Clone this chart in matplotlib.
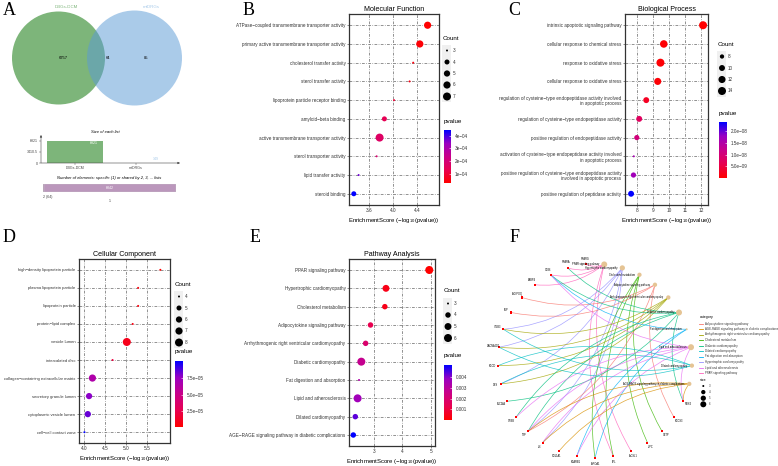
import numpy as np
import matplotlib.pyplot as plt
from matplotlib.colors import LinearSegmentedColormap
from matplotlib.patches import Circle, Rectangle, FancyArrowPatch

W, H = 778, 466
plt.rcParams['font.family'] = ['Liberation Sans', 'DejaVu Sans']
plt.rcParams['mathtext.fontset'] = 'custom'
plt.rcParams['mathtext.rm'] = 'Liberation Sans'

# ---- A: venn / list sizes ----
set_names = ['DBGs-DCM', 'mtDRGs']
venn_regions = [6757, 64, 85]          # only left, shared, only right
list_sizes = [6821, 149]
shared_labels = ['2 (64)', '1']
shared_counts = [64, 6842]

# ---- B: GO molecular function ----
mf_terms = ['ATPase\u2212coupled transmembrane transporter activity',
            'primary active transmembrane transporter activity',
            'cholesterol transfer activity', 'sterol transfer activity',
            'lipoprotein particle receptor binding', 'amyloid\u2212beta binding',
            'active transmembrane transporter activity', 'sterol transporter activity',
            'lipid transfer activity', 'steroid binding']
mf_score = [4.58, 4.45, 4.34, 4.28, 4.02, 3.86, 3.78, 3.73, 3.43, 3.35]
mf_count = [6, 6, 3, 3, 3, 4, 7, 3, 3, 4]

# ---- C: GO biological process ----
bp_terms = ['intrinsic apoptotic signaling pathway',
            'cellular response to chemical stress',
            'response to oxidative stress',
            'cellular response to oxidative stress',
            'regulation of cysteine\u2212type endopeptidase activity involved\nin apoptotic process',
            'regulation of cysteine\u2212type endopeptidase activity',
            'positive regulation of endopeptidase activity',
            'activation of cysteine\u2212type endopeptidase activity involved\nin apoptotic process',
            'positive regulation of cysteine\u2212type endopeptidase activity\ninvolved in apoptotic process',
            'positive regulation of peptidase activity']
bp_score = [12.13, 9.67, 9.46, 9.29, 8.57, 8.13, 7.98, 7.79, 7.77, 7.62]
bp_count = [14, 13, 14, 12, 10, 10, 9, 7, 9, 10]

# ---- D: GO cellular component ----
cc_terms = ['high\u2212density lipoprotein particle', 'plasma lipoprotein particle',
            'lipoprotein particle', 'protein\u2212lipid complex', 'vesicle lumen',
            'intercalated disc', 'collagen\u2212containing extracellular matrix',
            'secretory granule lumen', 'cytoplasmic vesicle lumen',
            'cell\u2212cell contact zone']
cc_score = [5.81, 5.28, 5.28, 5.15, 5.01, 4.67, 4.19, 4.11, 4.08, 4.0]
cc_count = [4, 4, 4, 4, 8, 4, 7, 6, 6, 4]

# ---- E: KEGG ----
kegg_terms = ['PPAR signaling pathway', 'Hypertrophic cardiomyopathy',
              'Cholesterol metabolism', 'Adipocytokine signaling pathway',
              'Arrhythmogenic right ventricular cardiomyopathy',
              'Diabetic cardiomyopathy', 'Fat digestion and absorption',
              'Lipid and atherosclerosis', 'Dilated cardiomyopathy',
              'AGE\u2212RAGE signaling pathway in diabetic complications']
kegg_score = [4.94, 3.43, 3.39, 2.89, 2.72, 2.57, 2.49, 2.44, 2.36, 2.29]
kegg_count = [6, 5, 4, 4, 4, 6, 3, 6, 4, 4]

# ---- F: gene-pathway network ----
legend_cats = ['Adipocytokine signaling pathway',
               'AGE-RAGE signaling pathway in diabetic complications',
               'Arrhythmogenic right ventricular cardiomyopathy',
               'Cholesterol metabolism', 'Diabetic cardiomyopathy',
               'Dilated cardiomyopathy', 'Fat digestion and absorption',
               'Hypertrophic cardiomyopathy', 'Lipid and atherosclerosis',
               'PPAR signaling pathway']
cat_colors = ['#F8766D', '#D89000', '#A3A500', '#39B600', '#00BF7D',
              '#00BFC4', '#00B0F6', '#9590FF', '#E76BF3', '#FF62BC']
cat_genes = {
    'PPAR signaling pathway': ['PPARG', 'CD36', 'FABP4', 'LPL', 'ACSL1', 'PPARA'],
    'Hypertrophic cardiomyopathy': ['ITGB3', 'TNF', 'IL6', 'CACNA2D1', 'DES'],
    'Cholesterol metabolism': ['APOA1', 'LPL', 'CETP', 'LIPC'],
    'Adipocytokine signaling pathway': ['ADIPOQ', 'LEP', 'TNF', 'SOCS3'],
    'Arrhythmogenic right ventricular cardiomyopathy': ['ITGB3', 'CACNA2D1', 'DES', 'SGCD'],
    'Diabetic cardiomyopathy': ['NOX4', 'TNF', 'CYBB', 'SLC2A4', 'CD36', 'PPARA'],
    'Fat digestion and absorption': ['APOA1', 'CD36', 'SCARB1'],
    'Lipid and atherosclerosis': ['CD36', 'TNF', 'IL6', 'NOX4', 'CYBB', 'SCARB1'],
    'Dilated cardiomyopathy': ['ITGB3', 'CACNA2D1', 'DES', 'SGCD'],
    'AGE-RAGE signaling pathway in diabetic complications': ['IL6', 'TNF', 'NOX4', 'COL1A1'],
}
gene_order = ['NOX4', 'SOCS3', 'CETP', 'LIPC', 'ACSL1', 'LPL', 'APOA1', 'SCARB1',
              'COL1A1', 'IL6', 'TNF', 'CYBB', 'SLC2A4', 'DES', 'SGCD', 'CACNA2D1',
              'ITGB3', 'LEP', 'ADIPOQ', 'FABP4', 'CD36', 'PPARA', 'PPARG']
ring_cats = ['PPAR signaling pathway', 'Hypertrophic cardiomyopathy',
             'Cholesterol metabolism', 'Adipocytokine signaling pathway',
             'Arrhythmogenic right ventricular cardiomyopathy',
             'Diabetic cardiomyopathy', 'Fat digestion and absorption',
             'Lipid and atherosclerosis', 'Dilated cardiomyopathy',
             'AGE-RAGE signaling pathway in diabetic complications']

# red -> blue gradient (approximating ggplot's Lab interpolation)
pcmap = LinearSegmentedColormap.from_list(
    'pv', ['#FF0000', '#E80050', '#C90089', '#9A00C2', '#0000FF'])

fig = plt.figure(figsize=(W / 100, H / 100), dpi=100)


def px_axes(x0, y0, x1, y1):
    return fig.add_axes([x0 / W, 1 - y1 / H, (x1 - x0) / W, (y1 - y0) / H])


def px_canvas(x0, y0, x1, y1):
    ax = px_axes(x0, y0, x1, y1)
    ax.set_xlim(x0, x1)
    ax.set_ylim(y1, y0)
    ax.axis('off')
    return ax


def ftext(x, y, s, **kw):
    fig.text(x / W, 1 - y / H, s, **kw)


def dotplot(box, terms, scores, counts, title, xlim, xticks, xticklabels,
            size_breaks, leg_x, leg_y, cbar_box, cbar_ticks, cbar_labels,
            ylab_size=3.3):
    scores = np.asarray(scores)
    pvals = 10.0 ** -scores
    cmin, cmax = min(counts), max(counts)

    def area(c):
        d = 2 + 6 * np.sqrt((np.asarray(c, float) - cmin) / (cmax - cmin))
        return (0.72 * d) ** 2

    ax = px_axes(*box)
    rows = np.arange(len(terms))
    ax.scatter(scores, rows, s=area(counts), c=pvals, cmap=pcmap,
               vmin=pvals.min(), vmax=pvals.max(), edgecolors='none', zorder=3)
    ax.set_ylim(len(terms) - 0.4, -0.6)
    ax.set_xlim(*xlim)
    ax.set_yticks(rows)
    ax.set_yticklabels(terms)
    ax.set_xticks(xticks)
    ax.set_xticklabels(xticklabels)
    ax.grid(True, linestyle=(0, (4, 2, 1, 2)), color='#666666', lw=0.5)
    ax.set_axisbelow(True)
    for sp in ax.spines.values():
        sp.set_color('#333333')
        sp.set_linewidth(0.9)
    ax.tick_params(length=1.5, width=0.4, pad=1, colors='#333333')
    ax.tick_params(axis='y', labelsize=ylab_size)
    ax.tick_params(axis='x', labelsize=3.4)
    ax.set_title(title, fontsize=5.1, pad=2.5)
    ax.set_xlabel('EnrichmentScore (\u2212log$_{10}$(pvalue))', fontsize=4.3,
                  labelpad=1.5)

    # size legend
    lg = px_canvas(0, 0, W, H)
    ftext(leg_x - 4, leg_y, 'Count', fontsize=4.5, va='center')
    ys = [leg_y + 12.5 + 11.5 * i for i in range(len(size_breaks))]
    lg.add_patch(Rectangle((leg_x - 4.5, ys[0] - 5.5), 9, ys[-1] - ys[0] + 11,
                           color='#F0F0F0', lw=0))
    lg.scatter([leg_x] * len(ys), ys, s=area(size_breaks), c='black',
               edgecolors='none')
    for y, b in zip(ys, size_breaks):
        ftext(leg_x + 6, y, str(b), fontsize=3.3, va='center', color='#333333')

    # colour bar
    x0, y0, x1, y1 = cbar_box
    ftext(x0, y0 - 9, 'pvalue', fontsize=4.5, va='center')
    cax = px_axes(*cbar_box)
    grad = np.linspace(pvals.min(), pvals.max(), 256)[:, None]
    cax.imshow(grad, aspect='auto', cmap=pcmap, origin='lower',
               extent=[0, 1, pvals.min(), pvals.max()])
    cax.set_xticks([])
    cax.yaxis.tick_right()
    cax.set_yticks(cbar_ticks)
    cax.set_yticklabels(cbar_labels)
    cax.tick_params(axis='y', length=1.5, width=0.4, color='white',
                    direction='in', labelsize=3.3, pad=3, labelcolor='#333333')
    for sp in cax.spines.values():
        sp.set_visible(False)
    return ax


# ---------- Panel A ----------
venn_green = '#7DB57A'
venn_blue_light = '#A8CBEA'
va_ax = px_canvas(0, 0, 240, 115)
va_ax.add_patch(Circle((58.5, 58), 46.5, color=venn_green, lw=0))
va_ax.add_patch(Circle((134.5, 58), 47.5, color='#5A9AD6', alpha=0.515, lw=0))
for x, v in zip([63, 108, 146], venn_regions):
    va_ax.text(x, 58, str(v), fontsize=3, ha='center', va='center')
va_ax.text(66, 7, set_names[0], fontsize=3.2, color=venn_green, ha='center', va='center')
va_ax.text(151, 7, set_names[1], fontsize=3.2, color=venn_blue_light, ha='center', va='center')

bax = px_axes(41, 135, 180, 163)
bars = bax.bar([0, 1], list_sizes, width=0.92, color=[venn_green, venn_blue_light])
bax.set_xlim(-0.557, -0.557 + 139 / 61)
bax.set_ylim(0, list_sizes[0] * 1.25)
bax.set_yticks([0, list_sizes[0] / 2, list_sizes[0]])
bax.set_yticklabels(['0', '3410.5', '6821'])
bax.set_xticks([0, 1])
bax.set_xticklabels(set_names)
bax.tick_params(length=1.2, width=0.3, labelsize=2.6, pad=1, colors='#444444')
for s in ['top', 'right', 'left', 'bottom']:
    bax.spines[s].set_visible(False)
bax.patch.set_alpha(0)
bax.annotate('', xy=(0, 1), xytext=(0, 0), xycoords='axes fraction',
             arrowprops=dict(arrowstyle='-|>', lw=0.4, color='#444444',
                             mutation_scale=3, shrinkA=0, shrinkB=0))
bax.annotate('', xy=(1, 0), xytext=(0, 0), xycoords='axes fraction',
             arrowprops=dict(arrowstyle='-|>', lw=0.4, color='#444444',
                             mutation_scale=3, shrinkA=0, shrinkB=0))
bax.text(0.38, list_sizes[0] * 0.88, str(list_sizes[0]), fontsize=2.6,
         color='white', ha='right', va='center')
bax.text(1.37, list_sizes[1] + 500, str(list_sizes[1]), fontsize=2.6,
         color=venn_blue_light, ha='right', va='bottom')
ftext(105, 132, 'Size of each list', fontsize=3, style='italic', ha='center', va='center')
ftext(109, 178, 'Number of elements: specific (1) or shared by 2, 3, ... lists',
      fontsize=3, style='italic', ha='center', va='center')

sax = px_axes(43, 184, 176, 191.5)
left = 0
for c, col in zip(shared_counts, ['#A77FA8', '#BB97BC']):
    sax.barh(0, c, left=left, height=1, color=col, edgecolor='#C8C8C8', lw=0.3)
    left += c
sax.set_xlim(0, sum(shared_counts))
sax.set_ylim(-0.5, 0.5)
sax.axis('off')
sax.text(shared_counts[0] + shared_counts[1] / 2, 0, str(shared_counts[1]),
         fontsize=2.6, color='white', ha='center', va='center')
ftext(43, 197, shared_labels[0], fontsize=2.6, color='#444444', va='center')
ftext(110, 201, shared_labels[1], fontsize=2.6, color='#444444', ha='center', va='center')

# ---------- Panels B-E ----------
dotplot((349, 14, 439, 205), mf_terms, mf_score, mf_count, 'Molecular Function',
        (3.27, 4.77), [3.6, 4.0, 4.4], ['3.6', '4.0', '4.4'],
        [3, 4, 5, 6, 7], 447, 38, (444, 130, 451, 183),
        [1e-4, 2e-4, 3e-4, 4e-4], ['1e\u221204', '2e\u221204', '3e\u221204', '4e\u221204'])

dotplot((625, 14, 708, 205), bp_terms, bp_score, bp_count, 'Biological Process',
        (7.24, 12.44), [8, 9, 10, 11, 12], ['8', '9', '10', '11', '12'],
        [8, 10, 12, 14], 722, 44, (719, 122, 727, 178),
        [5e-9, 1e-8, 1.5e-8, 2e-8],
        ['5.0e\u221209', '1.0e\u221208', '1.5e\u221208', '2.0e\u221208'])

dotplot((79, 259, 170, 443), cc_terms, cc_score, cc_count, 'Cellular Component',
        (3.87, 6.04), [4.0, 4.5, 5.0, 5.5], ['4.0', '4.5', '5.0', '5.5'],
        [4, 5, 6, 7, 8], 179, 284, (175, 361, 183, 427),
        [2.5e-5, 5e-5, 7.5e-5], ['2.5e\u221205', '5.0e\u221205', '7.5e\u221205'],
        ylab_size=3.0)

dotplot((349, 259, 435, 446), kegg_terms, kegg_score, kegg_count, 'Pathway Analysis',
        (2.14, 5.14), [3, 4, 5], ['3', '4', '5'],
        [3, 4, 5, 6], 448, 291, (444, 365, 452, 420),
        [0.001, 0.002, 0.003, 0.004], ['0.001', '0.002', '0.003', '0.004'])

# ---------- Panel F ----------
L = 112 / 97
fax = px_axes(595 - 112, 361 - 112, 595 + 112, 361 + 112)
fax.set_xlim(-L, L)
fax.set_ylim(-L, L)
fax.axis('off')
nodes = ring_cats + gene_order
step = 2 * np.pi / len(nodes)
pos = {}
for k, name in enumerate(nodes):
    a = (k + 0.5) * step
    pos[name] = (np.sin(a), np.cos(a))

for cat in ring_cats:
    col = cat_colors[legend_cats.index(cat)]
    for g in cat_genes[cat]:
        (x1, y1), (x2, y2) = pos[cat], pos[g]
        # bend every edge towards the centre of the ring
        mid = np.array([(x1 + x2) / 2, (y1 + y2) / 2])
        perp = np.array([y2 - y1, -(x2 - x1)])
        sgn = -np.sign(np.dot(perp, mid)) or 1.0
        fax.add_patch(FancyArrowPatch(pos[cat], pos[g], arrowstyle='-',
                                      connectionstyle='arc3,rad=%.3f' % (0.2 * sgn),
                                      color=col, lw=0.5, alpha=0.8,
                                      shrinkA=0, shrinkB=0))


def node_d(c):
    return 2 + 4 * np.sqrt((c - 3) / 3)


cat_sizes = [len(cat_genes[c]) for c in ring_cats]
fax.scatter([pos[c][0] for c in ring_cats], [pos[c][1] for c in ring_cats],
            s=[(0.72 * node_d(n)) ** 2 for n in cat_sizes], color='#E5C494',
            zorder=4, edgecolors='none')
fax.scatter([pos[g][0] for g in gene_order], [pos[g][1] for g in gene_order],
            s=2.2, marker='s', color='#FF0000', zorder=4, edgecolors='none')
for c in ring_cats:
    x, y = pos[c]
    fax.text(x - 0.05, y, c, fontsize=1.8, ha='right', va='center', zorder=5)
for g in gene_order:
    x, y = pos[g]
    fax.text(x * 1.06, y * 1.06, g, fontsize=1.8, ha='center', va='center', zorder=5)

leg = px_canvas(0, 0, W, H)
ftext(700, 317, 'category', fontsize=2.6, va='center')
for i, (c, col) in enumerate(zip(legend_cats, cat_colors)):
    y = 323.5 + 5.5 * i
    leg.plot([699.5, 703.5], [y, y], color=col, lw=0.6)
    ftext(705, y, c, fontsize=2.1, va='center', color='#333333')
ftext(700, 380, 'size', fontsize=2.6, va='center')
size_breaks_f = [3, 4, 5, 6]
for i, b in enumerate(size_breaks_f):
    y = 386 + 6.1 * i
    leg.scatter([703.3], [y], s=(0.72 * node_d(b)) ** 2, color='black',
                edgecolors='none')
    ftext(709, y, str(b), fontsize=2.1, va='center', color='#333333')

# panel letters
for lab, x, y in [('A', 3, 2), ('B', 243, 2), ('C', 508, 2),
                  ('D', 3, 229), ('E', 250, 229), ('F', 510, 229)]:
    ftext(x, y, lab, fontsize=13, family='Liberation Serif', va='top')

fig.savefig('out.png', dpi=100)
